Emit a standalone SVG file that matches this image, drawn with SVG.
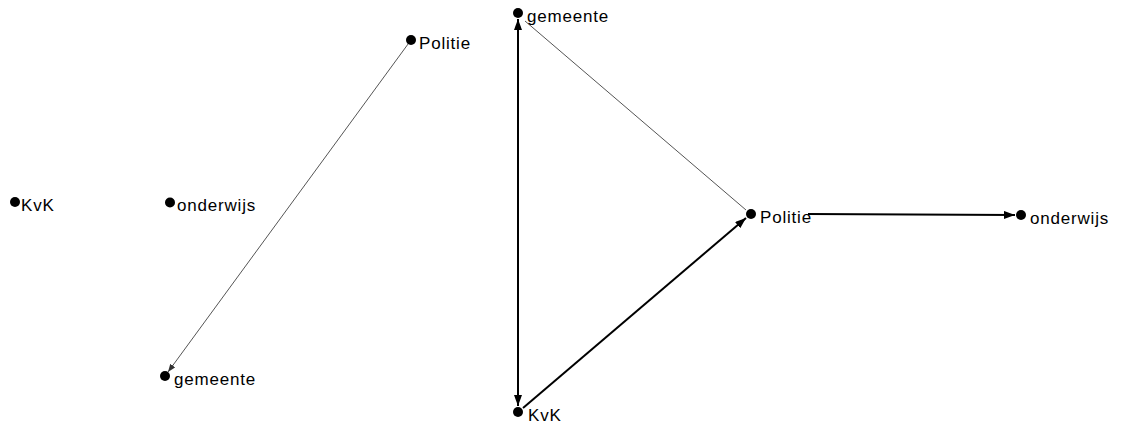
<svg xmlns="http://www.w3.org/2000/svg" width="1121" height="427" viewBox="0 0 1121 427">
<style>
.lbl{font-family:"Liberation Sans",Arial,sans-serif;font-size:17px;letter-spacing:0.8px;fill:#000}
.dot{fill:#000}
.thin{stroke:#555;stroke-width:1;fill:none}
.thick{stroke:#000;stroke-width:2;fill:none}
</style>
<defs>
<marker id="ab" markerUnits="userSpaceOnUse" markerWidth="12" markerHeight="10" refX="11" refY="4" orient="auto">
<path d="M0,0 L11,4 L0,8 z" fill="#000"/>
</marker>
<marker id="abs" markerUnits="userSpaceOnUse" markerWidth="12" markerHeight="10" refX="11" refY="4" orient="auto-start-reverse">
<path d="M0,0 L11,4 L0,8 z" fill="#000"/>
</marker>
<marker id="at" markerUnits="userSpaceOnUse" markerWidth="9" markerHeight="8" refX="8" refY="3" orient="auto">
<path d="M0,0 L8,3 L0,6 z" fill="#333"/>
</marker>
</defs>
<rect width="1121" height="427" fill="#fff"/>
<g id="connectors">
<line class="thin" x1="411" y1="40" x2="168" y2="372" marker-end="url(#at)"/>
<line class="thick" x1="518" y1="19" x2="518" y2="406" marker-start="url(#abs)" marker-end="url(#abs)"/>
<line class="thin" x1="525" y1="21" x2="746" y2="210"/>
<line class="thick" x1="523" y1="408" x2="746" y2="218" marker-end="url(#ab)"/>
<line class="thick" x1="808" y1="214" x2="1015" y2="215" marker-end="url(#ab)"/>
</g>
<g id="node-kvk-left"><circle class="dot" cx="15" cy="202" r="5"/><text class="lbl" x="21" y="211">KvK</text></g>
<g id="node-onderwijs-left"><circle class="dot" cx="170" cy="202.5" r="5"/><text class="lbl" x="177" y="211">onderwijs</text></g>
<g id="node-politie-left"><circle class="dot" cx="411" cy="40" r="5"/><text class="lbl" x="419" y="49">Politie</text></g>
<g id="node-gemeente-left"><circle class="dot" cx="165" cy="376" r="5"/><text class="lbl" x="174" y="385">gemeente</text></g>
<g id="node-gemeente-right"><circle class="dot" cx="518" cy="13" r="5"/><text class="lbl" x="527" y="22">gemeente</text></g>
<g id="node-kvk-right"><circle class="dot" cx="518" cy="412" r="5"/><text class="lbl" x="528" y="421">KvK</text></g>
<g id="node-politie-right"><circle class="dot" cx="751" cy="214" r="5"/><text class="lbl" x="760" y="223">Politie</text></g>
<g id="node-onderwijs-right"><circle class="dot" cx="1021" cy="215" r="5"/><text class="lbl" x="1030" y="224">onderwijs</text></g>
</svg>
